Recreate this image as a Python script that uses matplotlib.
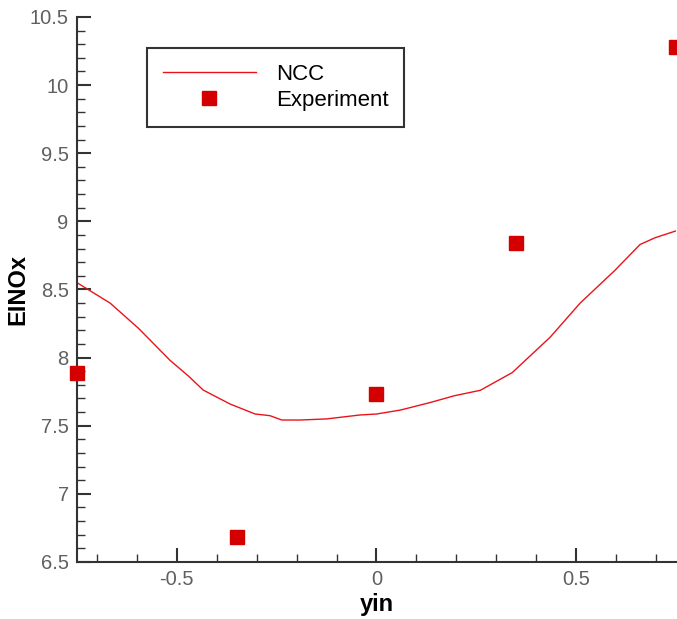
import matplotlib.pyplot as plt
from matplotlib.ticker import MultipleLocator

plt.rcParams["font.family"] = ["Liberation Sans", "DejaVu Sans"]

# NCC simulation curve
ncc_x = [-0.75, -0.667, -0.596, -0.517, -0.471, -0.434, -0.367, -0.304, -0.267,
         -0.237, -0.19, -0.125, -0.041, 0.0, 0.06, 0.134, 0.195, 0.26, 0.34,
         0.435, 0.51, 0.597, 0.66, 0.698, 0.75]
ncc_y = [8.55, 8.40, 8.215, 7.98, 7.865, 7.762, 7.66, 7.586, 7.574,
         7.542, 7.542, 7.55, 7.579, 7.586, 7.615, 7.67, 7.72, 7.76, 7.89,
         8.15, 8.40, 8.64, 8.83, 8.88, 8.93]

# experiment
exp_x = [-0.75, -0.35, 0.0, 0.35, 0.75]
exp_y = [7.89, 6.68, 7.73, 8.84, 10.28]

fig = plt.figure(figsize=(6.77, 6.19), dpi=100)
ax = fig.add_axes([0.1137, 0.0921, 0.8848, 0.8805])

ax.plot(ncc_x, ncc_y, color="#e8141c", lw=1.0, label="NCC")
ax.plot(exp_x, exp_y, ls="none", marker="s", ms=10.5, color="#d40000",
        mec="#d40000", clip_on=False, zorder=5, label="Experiment")

ax.set_xlim(-0.75, 0.75)
ax.set_ylim(6.5, 10.5)
ax.xaxis.set_major_locator(MultipleLocator(0.5))
ax.xaxis.set_minor_locator(MultipleLocator(0.1))
ax.yaxis.set_major_locator(MultipleLocator(0.5))
ax.yaxis.set_minor_locator(MultipleLocator(0.1))
ax.set_xticks([-0.5, 0, 0.5])
ax.set_xticklabels(["-0.5", "0", "0.5"])
ax.set_yticks([6.5, 7, 7.5, 8, 8.5, 9, 9.5, 10, 10.5])
ax.set_yticklabels(["6.5", "7", "7.5", "8", "8.5", "9", "9.5", "10", "10.5"])

for s in ["top", "right"]:
    ax.spines[s].set_visible(False)
for s in ["left", "bottom"]:
    ax.spines[s].set_linewidth(1.5)
    ax.spines[s].set_color("#333333")

ax.tick_params(which="major", direction="in", length=10, width=1.5,
               color="#333333", labelsize=14.5, labelcolor="#606060", pad=6)
ax.tick_params(which="minor", direction="in", length=6, width=1.0,
               color="#333333")

ax.set_xlabel("yin", fontsize=17, fontweight="bold", labelpad=3)
ax.set_ylabel("EINOx", fontsize=17, fontweight="bold", labelpad=0)

leg = ax.legend(loc="upper left", bbox_to_anchor=(0.117, 0.943),
                borderaxespad=0, fontsize=16, handlelength=4.2,
                handletextpad=0.9, labelspacing=0.25, borderpad=0.7,
                fancybox=False, frameon=True)
leg.get_frame().set_edgecolor("black")
leg.get_frame().set_linewidth(1.5)

plt.savefig("out.png", dpi=100)
plt.close()
